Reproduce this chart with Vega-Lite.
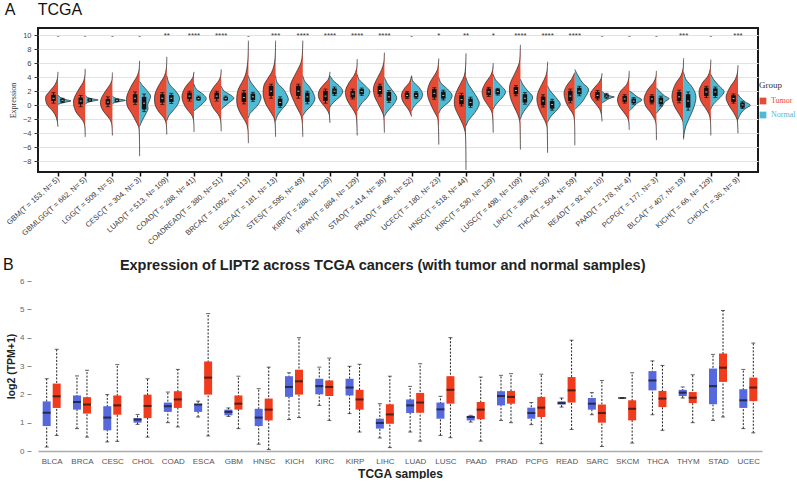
{
"$schema":"https://vega.github.io/schema/vega-lite/v6.json",
"padding":{"left":3,"top":1,"right":0,"bottom":0},
"background":"white",
"config":{"font":"Liberation Sans","axis":{"labelFont":"Liberation Sans","titleFont":"Liberation Sans"}},
"columns":1,
"align":"none",
"spacing":10,
"resolve":{"scale":{"color":"independent"},"legend":{"color":"independent"}},
"datasets":{
"vt":[
{"c":"GBM","y":-3.05,"w":0},{"c":"GBM","y":-2.2,"w":0.8},{"c":"GBM","y":-1.3,"w":3},{"c":"GBM","y":-0.6,"w":6.7},{"c":"GBM","y":0.1,"w":11},{"c":"GBM","y":1.2,"w":12.3},{"c":"GBM","y":2.0,"w":8.3},{"c":"GBM","y":3.0,"w":2.7},{"c":"GBM","y":3.8,"w":0.6},{"c":"GBM","y":4.76,"w":0},
{"c":"GBMLGG","y":-4.5,"w":0},{"c":"GBMLGG","y":-2.8,"w":0.6},{"c":"GBMLGG","y":-2.2,"w":2.3},{"c":"GBMLGG","y":-1.5,"w":6.3},{"c":"GBMLGG","y":-0.8,"w":9.7},{"c":"GBMLGG","y":0.62,"w":11.7},{"c":"GBMLGG","y":2.3,"w":6.3},{"c":"GBMLGG","y":3.2,"w":2.3},{"c":"GBMLGG","y":4.0,"w":0.5},{"c":"GBMLGG","y":5.2,"w":0},
{"c":"LGG","y":-4.3,"w":0},{"c":"LGG","y":-2.6,"w":0.8},{"c":"LGG","y":-2.0,"w":2.5},{"c":"LGG","y":-1.3,"w":6.5},{"c":"LGG","y":-0.5,"w":10.5},{"c":"LGG","y":0.4,"w":12},{"c":"LGG","y":1.0,"w":11},{"c":"LGG","y":2.0,"w":7},{"c":"LGG","y":2.8,"w":3},{"c":"LGG","y":3.5,"w":0.6},{"c":"LGG","y":4.67,"w":0},
{"c":"CESC","y":-7.24,"w":0},{"c":"CESC","y":-3.5,"w":0.5},{"c":"CESC","y":-2.95,"w":1.3},{"c":"CESC","y":-2.2,"w":4},{"c":"CESC","y":-1.3,"w":7.3},{"c":"CESC","y":-0.1,"w":12.3},{"c":"CESC","y":1.1,"w":13},{"c":"CESC","y":2.05,"w":10.7},{"c":"CESC","y":3.0,"w":7.3},{"c":"CESC","y":4.2,"w":2.3},{"c":"CESC","y":5.0,"w":0.6},{"c":"CESC","y":6.33,"w":0},
{"c":"LUAD","y":-4.15,"w":0},{"c":"LUAD","y":-2.5,"w":0.8},{"c":"LUAD","y":-1.76,"w":3},{"c":"LUAD","y":-1.05,"w":7.3},{"c":"LUAD","y":-0.1,"w":11.3},{"c":"LUAD","y":1.1,"w":12.3},{"c":"LUAD","y":2.05,"w":10.7},{"c":"LUAD","y":3.0,"w":7.3},{"c":"LUAD","y":4.2,"w":2.3},{"c":"LUAD","y":5.2,"w":0.5},{"c":"LUAD","y":6.9,"w":0},
{"c":"COAD","y":-3.8,"w":0},{"c":"COAD","y":-2.0,"w":0.6},{"c":"COAD","y":-1.3,"w":2.7},{"c":"COAD","y":-0.57,"w":7},{"c":"COAD","y":0.38,"w":10.7},{"c":"COAD","y":1.33,"w":12},{"c":"COAD","y":2.5,"w":9},{"c":"COAD","y":3.5,"w":3.3},{"c":"COAD","y":4.0,"w":1},{"c":"COAD","y":4.76,"w":0},
{"c":"COADREAD","y":-3.7,"w":0},{"c":"COADREAD","y":-2.0,"w":0.8},{"c":"COADREAD","y":-1.3,"w":3},{"c":"COADREAD","y":-0.6,"w":7},{"c":"COADREAD","y":0.4,"w":10.5},{"c":"COADREAD","y":1.4,"w":11.7},{"c":"COADREAD","y":2.5,"w":8},{"c":"COADREAD","y":3.5,"w":2.5},{"c":"COADREAD","y":4.1,"w":0.7},{"c":"COADREAD","y":5.1,"w":0},
{"c":"BRCA","y":-5.4,"w":0},{"c":"BRCA","y":-3.5,"w":0.5},{"c":"BRCA","y":-2.7,"w":1.7},{"c":"BRCA","y":-2.0,"w":4.3},{"c":"BRCA","y":-1.05,"w":8.3},{"c":"BRCA","y":-0.1,"w":11},{"c":"BRCA","y":1.1,"w":11.7},{"c":"BRCA","y":2.3,"w":10},{"c":"BRCA","y":3.2,"w":6.7},{"c":"BRCA","y":4.2,"w":3.3},{"c":"BRCA","y":5.1,"w":1.7},{"c":"BRCA","y":6.5,"w":0.5},{"c":"BRCA","y":9.2,"w":0},
{"c":"ESCA","y":-4.5,"w":0},{"c":"ESCA","y":-2.5,"w":0.6},{"c":"ESCA","y":-1.76,"w":1.7},{"c":"ESCA","y":-0.8,"w":5.7},{"c":"ESCA","y":0.14,"w":9.7},{"c":"ESCA","y":1.33,"w":12.3},{"c":"ESCA","y":2.3,"w":12.3},{"c":"ESCA","y":3.0,"w":11.3},{"c":"ESCA","y":3.7,"w":8.3},{"c":"ESCA","y":4.7,"w":4},{"c":"ESCA","y":5.6,"w":1.7},{"c":"ESCA","y":6.8,"w":0.5},{"c":"ESCA","y":9.2,"w":0},
{"c":"STES","y":-4.5,"w":0},{"c":"STES","y":-2.5,"w":0.5},{"c":"STES","y":-1.5,"w":1.7},{"c":"STES","y":-0.57,"w":5},{"c":"STES","y":0.38,"w":8.3},{"c":"STES","y":1.8,"w":12.3},{"c":"STES","y":2.5,"w":12.7},{"c":"STES","y":3.2,"w":11.7},{"c":"STES","y":4.2,"w":8.3},{"c":"STES","y":5.1,"w":5},{"c":"STES","y":6.1,"w":1.7},{"c":"STES","y":7.2,"w":0.5},{"c":"STES","y":9.2,"w":0},
{"c":"KIRP","y":-2.5,"w":0},{"c":"KIRP","y":-1.8,"w":0.4},{"c":"KIRP","y":-1.3,"w":0.8},{"c":"KIRP","y":-0.57,"w":3.3},{"c":"KIRP","y":0.14,"w":7.3},{"c":"KIRP","y":0.86,"w":10.7},{"c":"KIRP","y":1.57,"w":11.7},{"c":"KIRP","y":2.3,"w":10},{"c":"KIRP","y":3.0,"w":6},{"c":"KIRP","y":3.7,"w":1.7},{"c":"KIRP","y":4.2,"w":0.5},{"c":"KIRP","y":4.76,"w":0},
{"c":"KIPAN","y":-4.3,"w":0},{"c":"KIPAN","y":-2.5,"w":0.4},{"c":"KIPAN","y":-1.5,"w":1},{"c":"KIPAN","y":-0.8,"w":3.3},{"c":"KIPAN","y":0.14,"w":7.7},{"c":"KIPAN","y":1.1,"w":11},{"c":"KIPAN","y":2.05,"w":11.7},{"c":"KIPAN","y":3.2,"w":8.3},{"c":"KIPAN","y":4.2,"w":3.3},{"c":"KIPAN","y":5.2,"w":0.6},{"c":"KIPAN","y":6.57,"w":0},
{"c":"STAD","y":-3.9,"w":0},{"c":"STAD","y":-2.2,"w":0.4},{"c":"STAD","y":-1.5,"w":0.8},{"c":"STAD","y":-0.8,"w":2.7},{"c":"STAD","y":0.14,"w":6},{"c":"STAD","y":1.33,"w":10},{"c":"STAD","y":2.3,"w":11},{"c":"STAD","y":3.0,"w":10},{"c":"STAD","y":3.95,"w":6.7},{"c":"STAD","y":5.1,"w":2.7},{"c":"STAD","y":6.0,"w":0.7},{"c":"STAD","y":7.5,"w":0},
{"c":"PRAD","y":-1.6,"w":0},{"c":"PRAD","y":-0.8,"w":2.3},{"c":"PRAD","y":-0.1,"w":5.7},{"c":"PRAD","y":0.62,"w":9},{"c":"PRAD","y":1.57,"w":10},{"c":"PRAD","y":2.5,"w":6.7},{"c":"PRAD","y":3.2,"w":2.3},{"c":"PRAD","y":4.2,"w":0},
{"c":"UCEC","y":-5.6,"w":0},{"c":"UCEC","y":-3.0,"w":0.4},{"c":"UCEC","y":-1.76,"w":1.3},{"c":"UCEC","y":-1.05,"w":4},{"c":"UCEC","y":-0.1,"w":7.3},{"c":"UCEC","y":1.1,"w":10.7},{"c":"UCEC","y":2.05,"w":11.3},{"c":"UCEC","y":3.2,"w":9},{"c":"UCEC","y":4.2,"w":4.7},{"c":"UCEC","y":5.1,"w":1.3},{"c":"UCEC","y":6.66,"w":0},
{"c":"HNSC","y":-9.2,"w":0},{"c":"HNSC","y":-4.5,"w":0.4},{"c":"HNSC","y":-3.7,"w":1},{"c":"HNSC","y":-2.7,"w":3.3},{"c":"HNSC","y":-1.5,"w":7.3},{"c":"HNSC","y":-0.33,"w":11},{"c":"HNSC","y":0.62,"w":11.7},{"c":"HNSC","y":1.33,"w":11},{"c":"HNSC","y":2.3,"w":8.3},{"c":"HNSC","y":3.2,"w":5},{"c":"HNSC","y":4.2,"w":1.7},{"c":"HNSC","y":5.5,"w":0.4},{"c":"HNSC","y":7.4,"w":0},
{"c":"KIRC","y":-3.9,"w":0},{"c":"KIRC","y":-2.0,"w":0.4},{"c":"KIRC","y":-1.15,"w":1},{"c":"KIRC","y":-0.57,"w":2.7},{"c":"KIRC","y":0.14,"w":6},{"c":"KIRC","y":1.1,"w":10},{"c":"KIRC","y":2.05,"w":11},{"c":"KIRC","y":3.2,"w":7.7},{"c":"KIRC","y":4.2,"w":2.7},{"c":"KIRC","y":5.0,"w":0.6},{"c":"KIRC","y":6.0,"w":0},
{"c":"LUSC","y":-6.3,"w":0},{"c":"LUSC","y":-3.0,"w":0.4},{"c":"LUSC","y":-2.2,"w":0.8},{"c":"LUSC","y":-1.3,"w":2.7},{"c":"LUSC","y":-0.1,"w":6.7},{"c":"LUSC","y":1.1,"w":10},{"c":"LUSC","y":2.3,"w":11},{"c":"LUSC","y":3.2,"w":10},{"c":"LUSC","y":4.2,"w":6.7},{"c":"LUSC","y":5.1,"w":3.7},{"c":"LUSC","y":6.1,"w":1},{"c":"LUSC","y":7.0,"w":0.4},{"c":"LUSC","y":8.6,"w":0},
{"c":"LIHC","y":-6.76,"w":0},{"c":"LIHC","y":-3.5,"w":0.4},{"c":"LIHC","y":-2.95,"w":0.8},{"c":"LIHC","y":-2.2,"w":2.7},{"c":"LIHC","y":-1.3,"w":6},{"c":"LIHC","y":-0.33,"w":9},{"c":"LIHC","y":0.86,"w":10.7},{"c":"LIHC","y":2.05,"w":9},{"c":"LIHC","y":3.0,"w":5.7},{"c":"LIHC","y":4.2,"w":1.7},{"c":"LIHC","y":5.0,"w":0.5},{"c":"LIHC","y":6.2,"w":0},
{"c":"THCA","y":-5.7,"w":0},{"c":"THCA","y":-2.0,"w":0.5},{"c":"THCA","y":-1.3,"w":1.7},{"c":"THCA","y":-0.33,"w":6},{"c":"THCA","y":0.62,"w":9.3},{"c":"THCA","y":1.8,"w":10.7},{"c":"THCA","y":2.76,"w":8.3},{"c":"THCA","y":3.7,"w":3.3},{"c":"THCA","y":4.67,"w":0},
{"c":"READ","y":-2.3,"w":0},{"c":"READ","y":-1.3,"w":0.6},{"c":"READ","y":-0.57,"w":2.3},{"c":"READ","y":0.14,"w":6},{"c":"READ","y":0.86,"w":10},{"c":"READ","y":1.57,"w":11.7},{"c":"READ","y":2.5,"w":7.7},{"c":"READ","y":3.2,"w":3.3},{"c":"READ","y":3.9,"w":0.6},{"c":"READ","y":4.57,"w":0},
{"c":"PAAD","y":-3.5,"w":0},{"c":"PAAD","y":-2.3,"w":0.5},{"c":"PAAD","y":-1.76,"w":1.7},{"c":"PAAD","y":-0.95,"w":5.7},{"c":"PAAD","y":-0.1,"w":10},{"c":"PAAD","y":0.86,"w":11.7},{"c":"PAAD","y":2.05,"w":8.3},{"c":"PAAD","y":3.0,"w":2.3},{"c":"PAAD","y":3.8,"w":0.5},{"c":"PAAD","y":4.9,"w":0},
{"c":"PCPG","y":-4.96,"w":0},{"c":"PCPG","y":-2.6,"w":0.5},{"c":"PCPG","y":-2.0,"w":1.7},{"c":"PCPG","y":-1.05,"w":5.7},{"c":"PCPG","y":-0.1,"w":10.7},{"c":"PCPG","y":0.95,"w":12.3},{"c":"PCPG","y":2.3,"w":8.3},{"c":"PCPG","y":3.2,"w":3},{"c":"PCPG","y":4.0,"w":0.6},{"c":"PCPG","y":4.9,"w":0},
{"c":"BLCA","y":-4.86,"w":0},{"c":"BLCA","y":-2.8,"w":0.4},{"c":"BLCA","y":-2.2,"w":1},{"c":"BLCA","y":-1.3,"w":4.3},{"c":"BLCA","y":-0.1,"w":9.3},{"c":"BLCA","y":1.33,"w":11.7},{"c":"BLCA","y":3.0,"w":8.3},{"c":"BLCA","y":4.2,"w":2.7},{"c":"BLCA","y":5.2,"w":0.6},{"c":"BLCA","y":6.7,"w":0},
{"c":"KICH","y":-4.3,"w":0},{"c":"KICH","y":-2.2,"w":0.4},{"c":"KICH","y":-1.3,"w":1.7},{"c":"KICH","y":-0.33,"w":5.7},{"c":"KICH","y":0.62,"w":10},{"c":"KICH","y":2.05,"w":11.7},{"c":"KICH","y":3.2,"w":8.3},{"c":"KICH","y":4.2,"w":2.7},{"c":"KICH","y":5.2,"w":0.5},{"c":"KICH","y":6.5,"w":0},
{"c":"CHOL","y":-4.0,"w":0},{"c":"CHOL","y":-2.6,"w":0.4},{"c":"CHOL","y":-2.0,"w":1},{"c":"CHOL","y":-1.05,"w":4.3},{"c":"CHOL","y":-0.1,"w":8.7},{"c":"CHOL","y":1.1,"w":12},{"c":"CHOL","y":2.5,"w":8.3},{"c":"CHOL","y":3.7,"w":2.7},{"c":"CHOL","y":4.6,"w":0.6},{"c":"CHOL","y":5.7,"w":0}
],
"vn":[
{"c":"GBM","y":0.12,"w":0},{"c":"GBM","y":0.25,"w":2.5},{"c":"GBM","y":0.45,"w":8},{"c":"GBM","y":0.62,"w":13},{"c":"GBM","y":0.8,"w":8},{"c":"GBM","y":1.1,"w":2.5},{"c":"GBM","y":1.45,"w":0},
{"c":"GBMLGG","y":0.15,"w":0},{"c":"GBMLGG","y":0.4,"w":2.5},{"c":"GBMLGG","y":0.6,"w":8},{"c":"GBMLGG","y":0.76,"w":13},{"c":"GBMLGG","y":0.9,"w":8},{"c":"GBMLGG","y":1.1,"w":2.5},{"c":"GBMLGG","y":1.4,"w":0},
{"c":"LGG","y":0.2,"w":0},{"c":"LGG","y":0.4,"w":2.5},{"c":"LGG","y":0.55,"w":8},{"c":"LGG","y":0.7,"w":13},{"c":"LGG","y":0.85,"w":8},{"c":"LGG","y":1.05,"w":2.5},{"c":"LGG","y":1.3,"w":0},
{"c":"CESC","y":-3.0,"w":0},{"c":"CESC","y":-2.5,"w":1.5},{"c":"CESC","y":-1.8,"w":4},{"c":"CESC","y":-1.0,"w":7},{"c":"CESC","y":-0.5,"w":8.5},{"c":"CESC","y":0.0,"w":8},{"c":"CESC","y":0.6,"w":9.5},{"c":"CESC","y":1.3,"w":11},{"c":"CESC","y":2.0,"w":8},{"c":"CESC","y":2.8,"w":3},{"c":"CESC","y":3.4,"w":0},
{"c":"LUAD","y":-2.2,"w":0},{"c":"LUAD","y":-1.5,"w":2},{"c":"LUAD","y":-0.8,"w":6},{"c":"LUAD","y":0.14,"w":11},{"c":"LUAD","y":1.1,"w":12.7},{"c":"LUAD","y":2.05,"w":8.7},{"c":"LUAD","y":3.0,"w":2.7},{"c":"LUAD","y":4.2,"w":0},
{"c":"COAD","y":-0.8,"w":0},{"c":"COAD","y":-0.33,"w":4},{"c":"COAD","y":0.28,"w":9},{"c":"COAD","y":0.95,"w":12.3},{"c":"COAD","y":1.57,"w":9},{"c":"COAD","y":2.3,"w":2.3},{"c":"COAD","y":3.0,"w":0},
{"c":"COADREAD","y":-0.6,"w":0},{"c":"COADREAD","y":-0.2,"w":3},{"c":"COADREAD","y":0.4,"w":8},{"c":"COADREAD","y":1.0,"w":12.7},{"c":"COADREAD","y":1.5,"w":9},{"c":"COADREAD","y":2.0,"w":3},{"c":"COADREAD","y":2.7,"w":0},
{"c":"BRCA","y":-1.8,"w":0},{"c":"BRCA","y":-1.15,"w":1.7},{"c":"BRCA","y":-0.57,"w":5.7},{"c":"BRCA","y":0.14,"w":10},{"c":"BRCA","y":1.1,"w":12.7},{"c":"BRCA","y":1.57,"w":11.7},{"c":"BRCA","y":2.5,"w":6.7},{"c":"BRCA","y":3.5,"w":1.7},{"c":"BRCA","y":4.2,"w":0},
{"c":"ESCA","y":-2.2,"w":0},{"c":"ESCA","y":-1.5,"w":1.7},{"c":"ESCA","y":-0.8,"w":5},{"c":"ESCA","y":-0.1,"w":9.3},{"c":"ESCA","y":0.76,"w":12.7},{"c":"ESCA","y":1.33,"w":11.7},{"c":"ESCA","y":2.3,"w":7.7},{"c":"ESCA","y":3.2,"w":1.7},{"c":"ESCA","y":4.2,"w":0},
{"c":"STES","y":-1.5,"w":0},{"c":"STES","y":-0.8,"w":3.3},{"c":"STES","y":-0.1,"w":8.3},{"c":"STES","y":0.86,"w":12},{"c":"STES","y":1.57,"w":11},{"c":"STES","y":2.5,"w":7.3},{"c":"STES","y":3.5,"w":1.7},{"c":"STES","y":4.2,"w":0},
{"c":"KIRP","y":-0.3,"w":0},{"c":"KIRP","y":0.14,"w":1.7},{"c":"KIRP","y":0.62,"w":5},{"c":"KIRP","y":1.33,"w":10.7},{"c":"KIRP","y":2.05,"w":12.7},{"c":"KIRP","y":2.76,"w":9.3},{"c":"KIRP","y":3.5,"w":3.3},{"c":"KIRP","y":4.2,"w":0},
{"c":"KIPAN","y":-0.8,"w":0},{"c":"KIPAN","y":-0.33,"w":1.7},{"c":"KIPAN","y":0.38,"w":5},{"c":"KIPAN","y":1.1,"w":10},{"c":"KIPAN","y":1.95,"w":12.7},{"c":"KIPAN","y":2.76,"w":8.3},{"c":"KIPAN","y":3.7,"w":1.7},{"c":"KIPAN","y":4.4,"w":0},
{"c":"STAD","y":-1.6,"w":0},{"c":"STAD","y":-1.15,"w":1.7},{"c":"STAD","y":-0.57,"w":5},{"c":"STAD","y":0.28,"w":10},{"c":"STAD","y":1.1,"w":12.3},{"c":"STAD","y":2.05,"w":8.3},{"c":"STAD","y":3.0,"w":3.3},{"c":"STAD","y":3.95,"w":0},
{"c":"PRAD","y":-0.8,"w":0},{"c":"PRAD","y":-0.33,"w":1.7},{"c":"PRAD","y":0.14,"w":4.3},{"c":"PRAD","y":0.86,"w":9.3},{"c":"PRAD","y":1.57,"w":11},{"c":"PRAD","y":2.5,"w":7.7},{"c":"PRAD","y":3.5,"w":1},{"c":"PRAD","y":4.2,"w":0},
{"c":"UCEC","y":-1.15,"w":0},{"c":"UCEC","y":-0.57,"w":2},{"c":"UCEC","y":-0.1,"w":5.3},{"c":"UCEC","y":0.62,"w":11},{"c":"UCEC","y":1.43,"w":13.3},{"c":"UCEC","y":2.3,"w":8.7},{"c":"UCEC","y":3.2,"w":2},{"c":"UCEC","y":3.95,"w":0},
{"c":"HNSC","y":-2.95,"w":0},{"c":"HNSC","y":-2.2,"w":2.3},{"c":"HNSC","y":-1.43,"w":6.7},{"c":"HNSC","y":-0.57,"w":11},{"c":"HNSC","y":0.28,"w":13.3},{"c":"HNSC","y":1.1,"w":11},{"c":"HNSC","y":2.05,"w":6.7},{"c":"HNSC","y":3.2,"w":1.7},{"c":"HNSC","y":3.95,"w":0},
{"c":"KIRC","y":-0.57,"w":0},{"c":"KIRC","y":-0.1,"w":1.7},{"c":"KIRC","y":0.48,"w":5},{"c":"KIRC","y":1.24,"w":10},{"c":"KIRC","y":1.95,"w":12.3},{"c":"KIRC","y":2.76,"w":8},{"c":"KIRC","y":3.7,"w":2},{"c":"KIRC","y":4.4,"w":0},
{"c":"LUSC","y":-2.0,"w":0},{"c":"LUSC","y":-1.3,"w":1.7},{"c":"LUSC","y":-0.57,"w":5},{"c":"LUSC","y":0.38,"w":10},{"c":"LUSC","y":1.19,"w":12.3},{"c":"LUSC","y":2.05,"w":7.3},{"c":"LUSC","y":3.0,"w":2.3},{"c":"LUSC","y":3.7,"w":0},
{"c":"LIHC","y":-2.4,"w":0},{"c":"LIHC","y":-1.9,"w":1.7},{"c":"LIHC","y":-1.3,"w":5},{"c":"LIHC","y":-0.57,"w":10},{"c":"LIHC","y":0.14,"w":12.7},{"c":"LIHC","y":1.1,"w":8.3},{"c":"LIHC","y":2.05,"w":2.7},{"c":"LIHC","y":2.76,"w":0},
{"c":"THCA","y":-0.57,"w":0},{"c":"THCA","y":0.14,"w":5.3},{"c":"THCA","y":1.1,"w":10.3},{"c":"THCA","y":2.3,"w":13.7},{"c":"THCA","y":3.2,"w":7.7},{"c":"THCA","y":4.2,"w":3.3},{"c":"THCA","y":5.1,"w":0},
{"c":"READ","y":0.3,"w":0},{"c":"READ","y":0.6,"w":3},{"c":"READ","y":1.0,"w":8},{"c":"READ","y":1.19,"w":12.3},{"c":"READ","y":1.3,"w":9},{"c":"READ","y":1.6,"w":3},{"c":"READ","y":2.0,"w":0},
{"c":"PAAD","y":-0.8,"w":0},{"c":"PAAD","y":-0.33,"w":3.7},{"c":"PAAD","y":0.28,"w":7.7},{"c":"PAAD","y":0.76,"w":12.7},{"c":"PAAD","y":1.24,"w":7.7},{"c":"PAAD","y":1.8,"w":2.7},{"c":"PAAD","y":2.05,"w":0},
{"c":"PCPG","y":-1.15,"w":0},{"c":"PCPG","y":-0.67,"w":2.7},{"c":"PCPG","y":-0.1,"w":6},{"c":"PCPG","y":0.48,"w":8.3},{"c":"PCPG","y":0.95,"w":12.7},{"c":"PCPG","y":1.33,"w":8.3},{"c":"PCPG","y":2.05,"w":2.7},{"c":"PCPG","y":2.5,"w":0},
{"c":"BLCA","y":-4.6,"w":0},{"c":"BLCA","y":-3.9,"w":0.7},{"c":"BLCA","y":-2.95,"w":2.3},{"c":"BLCA","y":-1.5,"w":6.7},{"c":"BLCA","y":-0.1,"w":10.7},{"c":"BLCA","y":1.33,"w":12.3},{"c":"BLCA","y":2.5,"w":9},{"c":"BLCA","y":3.7,"w":2.3},{"c":"BLCA","y":4.67,"w":0},
{"c":"KICH","y":-0.57,"w":0},{"c":"KICH","y":-0.19,"w":1},{"c":"KICH","y":0.38,"w":4},{"c":"KICH","y":1.1,"w":9.3},{"c":"KICH","y":1.95,"w":13.3},{"c":"KICH","y":2.76,"w":8.3},{"c":"KICH","y":3.7,"w":2.7},{"c":"KICH","y":4.4,"w":0},
{"c":"CHOL","y":-2.0,"w":0},{"c":"CHOL","y":-1.43,"w":1.7},{"c":"CHOL","y":-0.8,"w":4.7},{"c":"CHOL","y":-0.33,"w":9},{"c":"CHOL","y":0.0,"w":12.3},{"c":"CHOL","y":0.48,"w":7.3},{"c":"CHOL","y":1.1,"w":2.3},{"c":"CHOL","y":1.57,"w":0}
],
"bx":[
{"c":"GBM","g":"Tumor","lo":0.3,"q1":0.62,"m":1.0,"q3":1.5,"hi":1.8},{"c":"GBM","g":"Normal","lo":0.4,"q1":0.5,"m":0.7,"q3":0.9,"hi":1.0},
{"c":"GBMLGG","g":"Tumor","lo":-0.2,"q1":0.14,"m":0.6,"q3":1.1,"hi":1.4},{"c":"GBMLGG","g":"Normal","lo":0.55,"q1":0.6,"m":0.75,"q3":0.9,"hi":0.95},
{"c":"LGG","g":"Tumor","lo":-0.2,"q1":0.1,"m":0.45,"q3":0.9,"hi":1.2},{"c":"LGG","g":"Normal","lo":0.5,"q1":0.55,"m":0.7,"q3":0.85,"hi":0.9},
{"c":"CESC","g":"Tumor","lo":0.1,"q1":0.38,"m":1.0,"q3":1.57,"hi":1.9},{"c":"CESC","g":"Normal","lo":-0.9,"q1":-0.6,"m":0.3,"q3":1.2,"hi":1.6},
{"c":"LUAD","g":"Tumor","lo":0.1,"q1":0.38,"m":1.0,"q3":1.57,"hi":1.8},{"c":"LUAD","g":"Normal","lo":0.25,"q1":0.47,"m":1.0,"q3":1.47,"hi":1.7},
{"c":"COAD","g":"Tumor","lo":0.6,"q1":0.86,"m":1.3,"q3":1.8,"hi":2.0},{"c":"COAD","g":"Normal","lo":0.7,"q1":0.76,"m":0.95,"q3":1.19,"hi":1.3},
{"c":"COADREAD","g":"Tumor","lo":0.6,"q1":0.9,"m":1.3,"q3":1.8,"hi":2.0},{"c":"COADREAD","g":"Normal","lo":0.7,"q1":0.75,"m":0.95,"q3":1.15,"hi":1.3},
{"c":"BRCA","g":"Tumor","lo":0.2,"q1":0.47,"m":1.1,"q3":1.8,"hi":2.1},{"c":"BRCA","g":"Normal","lo":0.55,"q1":0.76,"m":1.2,"q3":1.66,"hi":1.85},
{"c":"ESCA","g":"Tumor","lo":1.0,"q1":1.33,"m":2.0,"q3":2.76,"hi":3.0},{"c":"ESCA","g":"Normal","lo":-0.3,"q1":-0.1,"m":0.4,"q3":0.95,"hi":1.2},
{"c":"STES","g":"Tumor","lo":1.0,"q1":1.33,"m":2.0,"q3":2.76,"hi":3.0},{"c":"STES","g":"Normal","lo":0.2,"q1":0.47,"m":1.2,"q3":1.8,"hi":2.0},
{"c":"KIRP","g":"Tumor","lo":0.3,"q1":0.62,"m":1.3,"q3":2.05,"hi":2.3},{"c":"KIRP","g":"Normal","lo":1.4,"q1":1.57,"m":2.0,"q3":2.4,"hi":2.6},
{"c":"KIPAN","g":"Tumor","lo":0.9,"q1":1.1,"m":1.6,"q3":2.05,"hi":2.3},{"c":"KIPAN","g":"Normal","lo":1.4,"q1":1.57,"m":1.95,"q3":2.3,"hi":2.45},
{"c":"STAD","g":"Tumor","lo":1.3,"q1":1.57,"m":2.1,"q3":2.76,"hi":3.0},{"c":"STAD","g":"Normal","lo":0.4,"q1":0.62,"m":1.2,"q3":1.9,"hi":2.1},
{"c":"PRAD","g":"Tumor","lo":0.95,"q1":1.1,"m":1.4,"q3":1.8,"hi":1.95},{"c":"PRAD","g":"Normal","lo":0.95,"q1":1.1,"m":1.4,"q3":1.8,"hi":1.95},
{"c":"UCEC","g":"Tumor","lo":0.85,"q1":1.1,"m":1.7,"q3":2.3,"hi":2.5},{"c":"UCEC","g":"Normal","lo":0.75,"q1":0.95,"m":1.4,"q3":1.95,"hi":2.15},
{"c":"HNSC","g":"Tumor","lo":-0.1,"q1":0.14,"m":0.8,"q3":1.43,"hi":1.7},{"c":"HNSC","g":"Normal","lo":-0.3,"q1":-0.1,"m":0.4,"q3":0.95,"hi":1.15},
{"c":"KIRC","g":"Tumor","lo":1.25,"q1":1.43,"m":1.9,"q3":2.38,"hi":2.55},{"c":"KIRC","g":"Normal","lo":1.45,"q1":1.57,"m":1.95,"q3":2.3,"hi":2.4},
{"c":"LUSC","g":"Tumor","lo":1.35,"q1":1.57,"m":2.1,"q3":2.6,"hi":2.8},{"c":"LUSC","g":"Normal","lo":0.15,"q1":0.38,"m":1.0,"q3":1.57,"hi":1.8},
{"c":"LIHC","g":"Tumor","lo":-0.25,"q1":0.0,"m":0.62,"q3":1.24,"hi":1.5},{"c":"LIHC","g":"Normal","lo":-0.7,"q1":-0.48,"m":0.1,"q3":0.62,"hi":0.85},
{"c":"THCA","g":"Tumor","lo":0.35,"q1":0.62,"m":1.3,"q3":2.05,"hi":2.3},{"c":"THCA","g":"Normal","lo":1.35,"q1":1.57,"m":2.0,"q3":2.5,"hi":2.7},
{"c":"READ","g":"Tumor","lo":0.75,"q1":0.95,"m":1.4,"q3":1.9,"hi":2.1},{"c":"READ","g":"Normal","lo":1.0,"q1":1.1,"m":1.3,"q3":1.57,"hi":1.7},
{"c":"PAAD","g":"Tumor","lo":0.3,"q1":0.48,"m":0.9,"q3":1.33,"hi":1.5},{"c":"PAAD","g":"Normal","lo":0.15,"q1":0.28,"m":0.6,"q3":0.95,"hi":1.1},
{"c":"PCPG","g":"Tumor","lo":0.2,"q1":0.38,"m":0.9,"q3":1.33,"hi":1.5},{"c":"PCPG","g":"Normal","lo":-0.1,"q1":0.14,"m":0.6,"q3":1.1,"hi":1.3},
{"c":"BLCA","g":"Tumor","lo":0.35,"q1":0.62,"m":1.2,"q3":1.9,"hi":2.15},{"c":"BLCA","g":"Normal","lo":-0.7,"q1":-0.33,"m":0.6,"q3":1.57,"hi":1.9},
{"c":"KICH","g":"Tumor","lo":1.1,"q1":1.33,"m":1.9,"q3":2.5,"hi":2.7},{"c":"KICH","g":"Normal","lo":1.1,"q1":1.33,"m":1.9,"q3":2.4,"hi":2.6},
{"c":"CHOL","g":"Tumor","lo":0.3,"q1":0.48,"m":0.95,"q3":1.43,"hi":1.6},{"c":"CHOL","g":"Normal","lo":-0.45,"q1":-0.33,"m":0.05,"q3":0.38,"hi":0.5}
],
"sig":[
{"c":"GBM","s":"-"},{"c":"GBMLGG","s":"-"},{"c":"LGG","s":"-"},{"c":"CESC","s":"-"},{"c":"LUAD","s":"**"},{"c":"COAD","s":"****"},{"c":"COADREAD","s":"****"},{"c":"BRCA","s":"-"},{"c":"ESCA","s":"***"},{"c":"STES","s":"****"},{"c":"KIRP","s":"****"},{"c":"KIPAN","s":"****"},{"c":"STAD","s":"****"},{"c":"PRAD","s":"-"},{"c":"UCEC","s":"*"},{"c":"HNSC","s":"**"},{"c":"KIRC","s":"*"},{"c":"LUSC","s":"****"},{"c":"LIHC","s":"****"},{"c":"THCA","s":"****"},{"c":"READ","s":"-"},{"c":"PAAD","s":"-"},{"c":"PCPG","s":"-"},{"c":"BLCA","s":"***"},{"c":"KICH","s":"-"},{"c":"CHOL","s":"***"}
],
"bb":[
{"c":"BLCA","g":"Normal","mn":0.14,"q1":0.88,"md":1.35,"q3":1.75,"mx":2.55},{"c":"BLCA","g":"Tumor","mn":0.55,"q1":1.52,"md":1.93,"q3":2.38,"mx":3.59},
{"c":"BRCA","g":"Normal","mn":0.79,"q1":1.46,"md":1.73,"q3":1.96,"mx":2.65},{"c":"BRCA","g":"Tumor","mn":0.49,"q1":1.32,"md":1.64,"q3":1.9,"mx":2.85},
{"c":"CESC","g":"Normal","mn":0.32,"q1":0.73,"md":1.18,"q3":1.58,"mx":1.99},{"c":"CESC","g":"Tumor","mn":0.34,"q1":1.28,"md":1.61,"q3":1.96,"mx":3.05},
{"c":"CHOL","g":"Normal","mn":0.94,"q1":1.0,"md":1.11,"q3":1.16,"mx":1.29},{"c":"CHOL","g":"Tumor","mn":0.49,"q1":1.16,"md":1.59,"q3":1.99,"mx":2.55},
{"c":"COAD","g":"Normal","mn":1.0,"q1":1.38,"md":1.58,"q3":1.71,"mx":2.08},{"c":"COAD","g":"Tumor","mn":0.85,"q1":1.52,"md":1.82,"q3":2.11,"mx":2.88},
{"c":"ESCA","g":"Normal","mn":1.2,"q1":1.38,"md":1.64,"q3":1.67,"mx":1.76},{"c":"ESCA","g":"Tumor","mn":0.53,"q1":1.99,"md":2.59,"q3":3.16,"mx":4.85},
{"c":"GBM","g":"Normal","mn":1.22,"q1":1.26,"md":1.38,"q3":1.46,"mx":1.52},{"c":"GBM","g":"Tumor","mn":0.79,"q1":1.46,"md":1.67,"q3":1.96,"mx":2.64},
{"c":"HNSC","g":"Normal","mn":0.24,"q1":0.88,"md":1.18,"q3":1.49,"mx":2.2},{"c":"HNSC","g":"Tumor","mn":0.05,"q1":1.08,"md":1.46,"q3":1.85,"mx":2.96},
{"c":"KICH","g":"Normal","mn":1.11,"q1":1.91,"md":2.26,"q3":2.64,"mx":2.76},{"c":"KICH","g":"Tumor","mn":1.18,"q1":1.99,"md":2.46,"q3":2.87,"mx":4.0},
{"c":"KIRC","g":"Normal","mn":1.61,"q1":2.0,"md":2.29,"q3":2.55,"mx":2.96},{"c":"KIRC","g":"Tumor","mn":1.08,"q1":1.94,"md":2.26,"q3":2.49,"mx":3.28},
{"c":"KIRP","g":"Normal","mn":1.32,"q1":1.96,"md":2.24,"q3":2.55,"mx":2.99},{"c":"KIRP","g":"Tumor","mn":0.67,"q1":1.46,"md":1.82,"q3":2.16,"mx":3.06},
{"c":"LIHC","g":"Normal","mn":0.46,"q1":0.79,"md":0.99,"q3":1.14,"mx":1.67},{"c":"LIHC","g":"Tumor","mn":0.12,"q1":0.96,"md":1.29,"q3":1.65,"mx":2.64},
{"c":"LUAD","g":"Normal","mn":0.67,"q1":1.34,"md":1.61,"q3":1.82,"mx":2.28},{"c":"LUAD","g":"Tumor","mn":0.35,"q1":1.35,"md":1.71,"q3":2.05,"mx":3.08},
{"c":"LUSC","g":"Normal","mn":0.55,"q1":1.14,"md":1.47,"q3":1.71,"mx":1.93},{"c":"LUSC","g":"Tumor","mn":0.47,"q1":1.67,"md":2.16,"q3":2.64,"mx":4.0},
{"c":"PAAD","g":"Normal","mn":1.02,"q1":1.08,"md":1.2,"q3":1.24,"mx":1.26},{"c":"PAAD","g":"Tumor","mn":0.35,"q1":1.12,"md":1.46,"q3":1.73,"mx":2.61},
{"c":"PRAD","g":"Normal","mn":1.08,"q1":1.61,"md":1.94,"q3":2.11,"mx":2.67},{"c":"PRAD","g":"Tumor","mn":1.0,"q1":1.67,"md":1.91,"q3":2.12,"mx":2.73},
{"c":"PCPG","g":"Normal","mn":0.93,"q1":1.14,"md":1.34,"q3":1.53,"mx":1.71},{"c":"PCPG","g":"Tumor","mn":0.26,"q1":1.2,"md":1.53,"q3":1.91,"mx":2.71},
{"c":"READ","g":"Normal","mn":1.55,"q1":1.64,"md":1.69,"q3":1.75,"mx":1.87},{"c":"READ","g":"Tumor","mn":0.76,"q1":1.71,"md":2.14,"q3":2.61,"mx":3.91},
{"c":"SARC","g":"Normal","mn":1.28,"q1":1.46,"md":1.67,"q3":1.87,"mx":2.06},{"c":"SARC","g":"Tumor","mn":0.16,"q1":1.0,"md":1.34,"q3":1.64,"mx":2.49},
{"c":"SKCM","g":"Normal","mn":1.87,"q1":1.87,"md":1.87,"q3":1.87,"mx":1.87},{"c":"SKCM","g":"Tumor","mn":0.28,"q1":1.08,"md":1.49,"q3":1.79,"mx":2.76},
{"c":"THCA","g":"Normal","mn":1.28,"q1":2.14,"md":2.49,"q3":2.82,"mx":3.18},{"c":"THCA","g":"Tumor","mn":0.73,"q1":1.55,"md":1.85,"q3":2.12,"mx":3.02},
{"c":"THYM","g":"Normal","mn":1.87,"q1":1.94,"md":2.06,"q3":2.16,"mx":2.26},{"c":"THYM","g":"Tumor","mn":1.0,"q1":1.69,"md":1.88,"q3":2.08,"mx":2.69},
{"c":"STAD","g":"Normal","mn":1.08,"q1":1.65,"md":2.29,"q3":2.91,"mx":3.41},{"c":"STAD","g":"Tumor","mn":1.2,"q1":2.44,"md":2.94,"q3":3.44,"mx":4.96},
{"c":"UCEC","g":"Normal","mn":0.79,"q1":1.52,"md":1.79,"q3":2.18,"mx":2.88},{"c":"UCEC","g":"Tumor","mn":0.64,"q1":1.76,"md":2.24,"q3":2.59,"mx":3.81}
]
},
"concat":[
{
"width":720,"height":144,
"view":{"stroke":"#1a1a1a","strokeWidth":2},
"title":{"text":"A\u00a0\u00a0\u00a0\u00a0\u00a0TCGA","anchor":"start","frame":"bounds","fontSize":16,"fontWeight":"normal","font":"Liberation Sans","color":"#111","offset":10},
"encoding":{
"x":{"field":"c","type":"nominal","scale":{"type":"point","padding":0.735,"domain":["GBM","GBMLGG","LGG","CESC","LUAD","COAD","COADREAD","BRCA","ESCA","STES","KIRP","KIPAN","STAD","PRAD","UCEC","HNSC","KIRC","LUSC","LIHC","THCA","READ","PAAD","PCPG","BLCA","KICH","CHOL"]},
"axis":{"title":null,"labelAngle":-42,"labelAlign":"right","labelBaseline":"middle","labelFontSize":7.5,"labelColor":"#333","tickColor":"#111","tickSize":4,"tickWidth":1.5,"domain":false,"grid":false,"labelPadding":2,
"labelExpr":"({'GBM':'GBM(T = 153, N= 5)','GBMLGG':'GBMLGG(T = 662, N= 5)','LGG':'LGG(T = 509, N= 5)','CESC':'CESC(T = 304, N= 3)','LUAD':'LUAD(T = 513, N= 109)','COAD':'COAD(T = 288, N= 41)','COADREAD':'COADREAD(T = 380, N= 51)','BRCA':'BRCA(T = 1092, N= 113)','ESCA':'ESCA(T = 181, N= 13)','STES':'STES(T = 595, N= 49)','KIRP':'KIRP(T = 288, N= 129)','KIPAN':'KIPAN(T = 884, N= 129)','STAD':'STAD(T = 414, N= 36)','PRAD':'PRAD(T = 495, N= 52)','UCEC':'UCEC(T = 180, N= 23)','HNSC':'HNSC(T = 518, N= 44)','KIRC':'KIRC(T = 530, N= 129)','LUSC':'LUSC(T = 498, N= 109)','LIHC':'LIHC(T = 369, N= 50)','THCA':'THCA(T = 504, N= 59)','READ':'READ(T = 92, N= 10)','PAAD':'PAAD(T = 178, N= 4)','PCPG':'PCPG(T = 177, N= 3)','BLCA':'BLCA(T = 407, N= 19)','KICH':'KICH(T = 66, N= 129)','CHOL':'CHOL(T = 36, N= 9)'})[datum.value]"}}
},
"layer":[
{"data":{"name":"vt"},
"mark":{"type":"line","filled":true,"stroke":"#222","strokeWidth":0.7,"interpolate":"catmull-rom","fillOpacity":1},
"encoding":{
"xOffset":{"field":"w","type":"quantitative","scale":{"domain":[0,10],"range":[0,-10],"nice":false,"zero":false}},
"y":{"field":"y","type":"quantitative","scale":{"domain":[-9.5,11],"nice":false,"zero":false},
"axis":{"values":[-8,-6,-4,-2,0,2,4,6,8,10],"labelOverlap":false,"title":"Expression","titleFont":"Liberation Serif","titleFontWeight":"normal","titleFontSize":8,"titleColor":"#333","titlePadding":5,"grid":true,"gridColor":"#e2e2e2","domain":false,"tickColor":"#333","tickSize":4,"labelFontSize":7.5,"labelColor":"#444","labelPadding":3}},
"color":{"datum":"Tumor","type":"nominal","scale":{"domain":["Tumor","Normal"],"range":["#E64B35","#4DBBD5"]},
"legend":{"title":"Group","orient":"none","legendX":721,"legendY":53,"titleFont":"Liberation Serif","titleFontSize":9,"titleFontWeight":"normal","titleColor":"#333","labelFont":"Liberation Serif","labelFontSize":8,"labelOffset":4,"labelColor":{"expr":"datum.value == 'Tumor' ? '#E64B35' : '#4DBBD5'"},"symbolType":"square","symbolSize":45,"symbolStrokeWidth":0,"rowPadding":6,"titlePadding":7}},
"detail":{"field":"c"},
"order":{"field":"y","type":"quantitative"}}},
{"data":{"name":"vn"},
"mark":{"type":"line","filled":true,"stroke":"#222","strokeWidth":0.7,"interpolate":"catmull-rom","fillOpacity":1},
"encoding":{
"xOffset":{"field":"w","type":"quantitative","scale":{"domain":[0,10],"range":[0,10],"nice":false,"zero":false}},
"y":{"field":"y","type":"quantitative","scale":{"domain":[-9.5,11],"nice":false,"zero":false},
"axis":{"values":[-8,-6,-4,-2,0,2,4,6,8,10],"labelOverlap":false,"title":"Expression","titleFont":"Liberation Serif","titleFontWeight":"normal","titleFontSize":8,"titleColor":"#333","titlePadding":5,"grid":true,"gridColor":"#e2e2e2","domain":false,"tickColor":"#333","tickSize":4,"labelFontSize":7.5,"labelColor":"#444","labelPadding":3}},
"color":{"datum":"Normal","type":"nominal"},
"detail":{"field":"c"},
"order":{"field":"y","type":"quantitative"}}},
{"data":{"name":"bx"},
"mark":{"type":"rule","color":"#111","strokeWidth":1},
"encoding":{"xOffset":{"field":"g","type":"nominal","scale":{"type":"point","domain":["Tumor","Normal"],"range":[-4.5,4.5],"padding":0}},
"y":{"field":"lo","type":"quantitative","scale":{"domain":[-9.5,11],"nice":false,"zero":false},
"axis":{"values":[-8,-6,-4,-2,0,2,4,6,8,10],"labelOverlap":false,"title":"Expression","titleFont":"Liberation Serif","titleFontWeight":"normal","titleFontSize":8,"titleColor":"#333","titlePadding":5,"grid":true,"gridColor":"#e2e2e2","domain":false,"tickColor":"#333","tickSize":4,"labelFontSize":7.5,"labelColor":"#444","labelPadding":3}},"y2":{"field":"hi"}}},
{"data":{"name":"bx"},
"mark":{"type":"rule","color":"#111","strokeWidth":4.5,"strokeCap":"butt"},
"encoding":{"xOffset":{"field":"g","type":"nominal","scale":{"type":"point","domain":["Tumor","Normal"],"range":[-4.5,4.5],"padding":0}},
"y":{"field":"q1","type":"quantitative","scale":{"domain":[-9.5,11],"nice":false,"zero":false},
"axis":{"values":[-8,-6,-4,-2,0,2,4,6,8,10],"labelOverlap":false,"title":"Expression","titleFont":"Liberation Serif","titleFontWeight":"normal","titleFontSize":8,"titleColor":"#333","titlePadding":5,"grid":true,"gridColor":"#e2e2e2","domain":false,"tickColor":"#333","tickSize":4,"labelFontSize":7.5,"labelColor":"#444","labelPadding":3}},"y2":{"field":"q3"}}},
{"data":{"name":"bx"},
"mark":{"type":"tick","color":"#111","size":4,"thickness":1},
"encoding":{"xOffset":{"field":"g","type":"nominal","scale":{"type":"point","domain":["Tumor","Normal"],"range":[-4.5,4.5],"padding":0}},
"y":{"field":"lo","type":"quantitative","scale":{"domain":[-9.5,11],"nice":false,"zero":false},
"axis":{"values":[-8,-6,-4,-2,0,2,4,6,8,10],"labelOverlap":false,"title":"Expression","titleFont":"Liberation Serif","titleFontWeight":"normal","titleFontSize":8,"titleColor":"#333","titlePadding":5,"grid":true,"gridColor":"#e2e2e2","domain":false,"tickColor":"#333","tickSize":4,"labelFontSize":7.5,"labelColor":"#444","labelPadding":3}}}},
{"data":{"name":"bx"},
"mark":{"type":"tick","color":"#111","size":4,"thickness":1},
"encoding":{"xOffset":{"field":"g","type":"nominal","scale":{"type":"point","domain":["Tumor","Normal"],"range":[-4.5,4.5],"padding":0}},
"y":{"field":"hi","type":"quantitative","scale":{"domain":[-9.5,11],"nice":false,"zero":false},
"axis":{"values":[-8,-6,-4,-2,0,2,4,6,8,10],"labelOverlap":false,"title":"Expression","titleFont":"Liberation Serif","titleFontWeight":"normal","titleFontSize":8,"titleColor":"#333","titlePadding":5,"grid":true,"gridColor":"#e2e2e2","domain":false,"tickColor":"#333","tickSize":4,"labelFontSize":7.5,"labelColor":"#444","labelPadding":3}}}},
{"data":{"name":"bx"},
"mark":{"type":"tick","color":"#ffffff","size":2,"thickness":1},
"encoding":{"xOffset":{"field":"g","type":"nominal","scale":{"type":"point","domain":["Tumor","Normal"],"range":[-4.5,4.5],"padding":0}},
"y":{"field":"m","type":"quantitative","scale":{"domain":[-9.5,11],"nice":false,"zero":false},
"axis":{"values":[-8,-6,-4,-2,0,2,4,6,8,10],"labelOverlap":false,"title":"Expression","titleFont":"Liberation Serif","titleFontWeight":"normal","titleFontSize":8,"titleColor":"#333","titlePadding":5,"grid":true,"gridColor":"#e2e2e2","domain":false,"tickColor":"#333","tickSize":4,"labelFontSize":7.5,"labelColor":"#444","labelPadding":3}}}},
{"data":{"name":"sig"},
"mark":{"type":"text","fontSize":8,"color":"#333","baseline":"middle","dy":1},
"encoding":{"y":{"datum":10,"type":"quantitative","scale":{"domain":[-9.5,11],"nice":false,"zero":false},
"axis":{"values":[-8,-6,-4,-2,0,2,4,6,8,10],"labelOverlap":false,"title":"Expression","titleFont":"Liberation Serif","titleFontWeight":"normal","titleFontSize":8,"titleColor":"#333","titlePadding":5,"grid":true,"gridColor":"#e2e2e2","domain":false,"tickColor":"#333","tickSize":4,"labelFontSize":7.5,"labelColor":"#444","labelPadding":3}},"text":{"field":"s"}}}
],
"resolve":{"scale":{"xOffset":"independent"}}
},
{
"width":724,"height":170,
"view":{"stroke":null},
"title":{"text":"B","subtitle":"\u200b\u00a0\u00a0\u00a0\u00a0\u00a0\u00a0\u00a0\u00a0\u00a0\u00a0\u00a0\u00a0\u00a0\u00a0\u00a0\u00a0\u00a0\u00a0\u00a0\u00a0\u00a0\u00a0\u00a0\u00a0\u00a0\u00a0\u00a0\u00a0\u00a0Expression of LIPT2 across TCGA cancers (with tumor and normal samples)","anchor":"start","frame":"bounds","dx":-3,"fontSize":16,"fontWeight":"normal","font":"Liberation Sans","color":"#111","subtitleFont":"Liberation Sans","subtitleFontSize":14.5,"subtitleFontWeight":"bold","subtitleColor":"#222","subtitlePadding":-14.5,"offset":4},
"data":{"name":"bb"},
"encoding":{
"x":{"field":"c","type":"nominal","scale":{"type":"point","padding":0.452,"domain":["BLCA","BRCA","CESC","CHOL","COAD","ESCA","GBM","HNSC","KICH","KIRC","KIRP","LIHC","LUAD","LUSC","PAAD","PRAD","PCPG","READ","SARC","SKCM","THCA","THYM","STAD","UCEC"]},
"axis":{"title":"TCGA samples","titleFontSize":12,"titleFontWeight":"bold","titleColor":"#222","titlePadding":3,"labelAngle":0,"labelFontSize":8,"labelColor":"#555","labelPadding":6,"ticks":false,"domain":true,"domainColor":"#aaaaaa","domainWidth":1.5,"grid":false}},
"xOffset":{"field":"g","type":"nominal","scale":{"type":"point","domain":["Normal","Tumor"],"range":[-5,5],"padding":0}}
},
"layer":[
{"mark":{"type":"rule","color":"#222","strokeWidth":1,"strokeDash":[2,1.5]},
"encoding":{"y":{"field":"mn","type":"quantitative","scale":{"domain":[0,6],"nice":false},
"axis":{"offset":7,"title":"log2 (TPM+1)","titleFontSize":10.5,"titleFontWeight":"bold","titleColor":"#222","titlePadding":3.5,"values":[0,1,2,3,4,5,6],"labelOverlap":false,"domain":false,"grid":false,"tickColor":"#888","tickSize":4,"labelFontSize":8,"labelColor":"#666","labelPadding":3}},
"y2":{"field":"mx"}}},
{"mark":{"type":"tick","color":"#222","size":4,"thickness":1},
"encoding":{"y":{"field":"mn","type":"quantitative","scale":{"domain":[0,6],"nice":false},
"axis":{"offset":7,"title":"log2 (TPM+1)","titleFontSize":10.5,"titleFontWeight":"bold","titleColor":"#222","titlePadding":3.5,"values":[0,1,2,3,4,5,6],"labelOverlap":false,"domain":false,"grid":false,"tickColor":"#888","tickSize":4,"labelFontSize":8,"labelColor":"#666","labelPadding":3}}}},
{"mark":{"type":"tick","color":"#222","size":4,"thickness":1},
"encoding":{"y":{"field":"mx","type":"quantitative","scale":{"domain":[0,6],"nice":false},
"axis":{"offset":7,"title":"log2 (TPM+1)","titleFontSize":10.5,"titleFontWeight":"bold","titleColor":"#222","titlePadding":3.5,"values":[0,1,2,3,4,5,6],"labelOverlap":false,"domain":false,"grid":false,"tickColor":"#888","tickSize":4,"labelFontSize":8,"labelColor":"#666","labelPadding":3}}}},
{"mark":{"type":"rule","strokeWidth":8,"strokeCap":"butt"},
"encoding":{"y":{"field":"q1","type":"quantitative","scale":{"domain":[0,6],"nice":false},
"axis":{"offset":7,"title":"log2 (TPM+1)","titleFontSize":10.5,"titleFontWeight":"bold","titleColor":"#222","titlePadding":3.5,"values":[0,1,2,3,4,5,6],"labelOverlap":false,"domain":false,"grid":false,"tickColor":"#888","tickSize":4,"labelFontSize":8,"labelColor":"#666","labelPadding":3}},"y2":{"field":"q3"},
"color":{"field":"g","type":"nominal","scale":{"domain":["Normal","Tumor"],"range":["#5568DE","#F03C1C"]},"legend":null}}},
{"mark":{"type":"tick","color":"#111","size":8,"thickness":2},
"encoding":{"y":{"field":"md","type":"quantitative","scale":{"domain":[0,6],"nice":false},
"axis":{"offset":7,"title":"log2 (TPM+1)","titleFontSize":10.5,"titleFontWeight":"bold","titleColor":"#222","titlePadding":3.5,"values":[0,1,2,3,4,5,6],"labelOverlap":false,"domain":false,"grid":false,"tickColor":"#888","tickSize":4,"labelFontSize":8,"labelColor":"#666","labelPadding":3}}}}
]
}
]
}
